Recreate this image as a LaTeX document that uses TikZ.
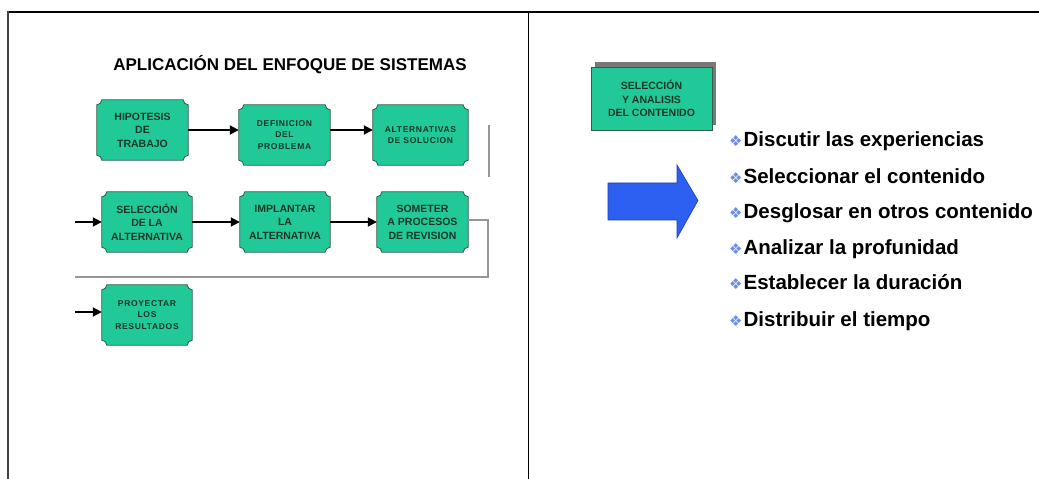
\documentclass[tikz,border=0pt]{standalone}
\usepackage{fontspec}
\setmainfont{Liberation Sans}
\newfontfamily\spacedfont[LetterSpace=8]{Liberation Sans}
\newfontfamily\dingfont{DejaVu Sans}
\usetikzlibrary{arrows.meta,backgrounds}

\definecolor{boxfill}{RGB}{32,201,151}
\definecolor{boxline}{RGB}{45,95,75}
\definecolor{boxtext}{RGB}{22,55,38}
\definecolor{flowgray}{RGB}{150,150,150}
\definecolor{bigarrow}{RGB}{45,95,240}
\definecolor{bigarrowline}{RGB}{30,60,190}
\definecolor{bulletblue}{RGB}{110,140,230}
\definecolor{shadowgray}{RGB}{120,120,120}

% plaque outline (rectangle with concave rounded corners) around a node
\newcommand\plaquebox[2][5pt]{%
  \filldraw[fill=boxfill,draw=boxline,line width=0.8pt]
    ([xshift=#1]#2.north west) -- ([xshift=-#1]#2.north east)
    arc[start angle=180,end angle=270,radius=#1]
    -- ([yshift=#1]#2.south east)
    arc[start angle=90,end angle=180,radius=#1]
    -- ([xshift=#1]#2.south west)
    arc[start angle=0,end angle=90,radius=#1]
    -- ([yshift=-#1]#2.north west)
    arc[start angle=270,end angle=360,radius=#1]
    -- cycle;}

\newcommand\itembullet{{\dingfont\fontsize{15}{15}\selectfont\color{bulletblue}❖}\hspace{1pt}}

\tikzset{
  stepbox/.style={minimum width=91pt, minimum height=60pt, inner sep=0pt,
    align=center, text=boxtext, font=\bfseries\fontsize{10.5}{13.5}\selectfont},
  smallbox/.style={stepbox, font=\spacedfont\bfseries\fontsize{8.5}{11.5}\selectfont},
  flow/.style={line width=1.8pt, -{Triangle[length=9pt,width=9pt]}},
  loopline/.style={line width=1.5pt, draw=flowgray},
  frame/.style={line width=1.5pt, draw=black},
  item/.style={anchor=base west, inner sep=0pt, font=\bfseries\fontsize{20.5}{24}\selectfont, text=black},
}

\begin{document}
\begin{tikzpicture}[x=1pt,y=1pt]
\useasboundingbox (0,0) rectangle (1039,479);

% table frame
\draw[frame] (8,467) -- (1039,467);
\draw[frame, draw=black!75] (8,467.75) -- (8,0);
\draw[frame] (528.5,467) -- (528.5,0);

% ---- left panel ----
\node[font=\bfseries\fontsize{17}{20}\selectfont] (title) at (290,414) {APLICACIÓN DEL ENFOQUE DE SISTEMAS};

\node[stepbox] (h) at (142.5,349) {HIPOTESIS\\DE\\TRABAJO};
\node[smallbox] (d) at (284.5,344) {DEFINICION\\DEL\\PROBLEMA};
\node[smallbox, minimum width=95pt] (a) at (420.5,344) {ALTERNATIVAS\\DE SOLUCION};
\node[stepbox, minimum width=90pt] (s) at (147,257) {SELECCIÓN\\DE LA\\ALTERNATIVA};
\node[stepbox, minimum width=90pt] (i) at (285,257) {IMPLANTAR\\LA\\ALTERNATIVA};
\node[stepbox] (r) at (422.5,257) {SOMETER\\A PROCESOS\\DE REVISION};
\node[smallbox, minimum width=90pt] (p) at (147,164) {PROYECTAR\\LOS\\RESULTADOS};

\begin{scope}[on background layer]
  \foreach \n in {h,d,a,s,i,r,p} {\plaquebox{\n}}
\end{scope}

\draw[flow] (h.east) -- (h.east -| d.west);
\draw[flow] ([yshift=5pt]d.east) -- ([yshift=5pt]d.east -| a.west);
\coordinate (sin) at (75,257);
\draw[flow] (sin) -- (s.west);
\draw[flow] (s.east) -- (i.west);
\draw[flow] (i.east) -- (r.west);
\coordinate (pin) at (75,167);
\draw[flow] (pin) -- (pin -| p.west);

\coordinate (loopR) at (488,259);
\coordinate (loopL) at (75,202);
\draw[loopline] ([yshift=2pt]r.east) -- (loopR) |- (loopL);
\coordinate (vtop) at (489,354);
\coordinate (vbot) at (489,302);
\draw[loopline] (vtop) -- (vbot);

% ---- right panel ----
\fill[shadowgray] (595,354) rectangle (716,417);
\node[draw=boxline, line width=0.8pt, fill=boxfill, minimum width=121pt, minimum height=63pt,
      inner sep=0pt, align=center, text=boxtext,
      font=\bfseries\fontsize{10.5}{13.5}\selectfont] (sel) at (651.5,380.5)
      {SELECCIÓN\\Y ANALISIS\\DEL CONTENIDO};

\filldraw[fill=bigarrow, draw=bigarrowline, line width=0.6pt]
  (608,296) -- (677,296) -- (677,314) -- (698,278.5) -- (677,241) -- (677,259) -- (608,259) -- cycle;

\node[item] (b1) at (729,332) {\itembullet Discutir las experiencias};
\node[item] (b2) at (729,295) {\itembullet Seleccionar el contenido};
\node[item] (b3) at (729,260) {\itembullet Desglosar en otros contenido};
\node[item] (b4) at (729,224) {\itembullet Analizar la profunidad};
\node[item] (b5) at (729,189) {\itembullet Establecer la duración};
\node[item] (b6) at (729,152) {\itembullet Distribuir el tiempo};
\end{tikzpicture}
\end{document}
